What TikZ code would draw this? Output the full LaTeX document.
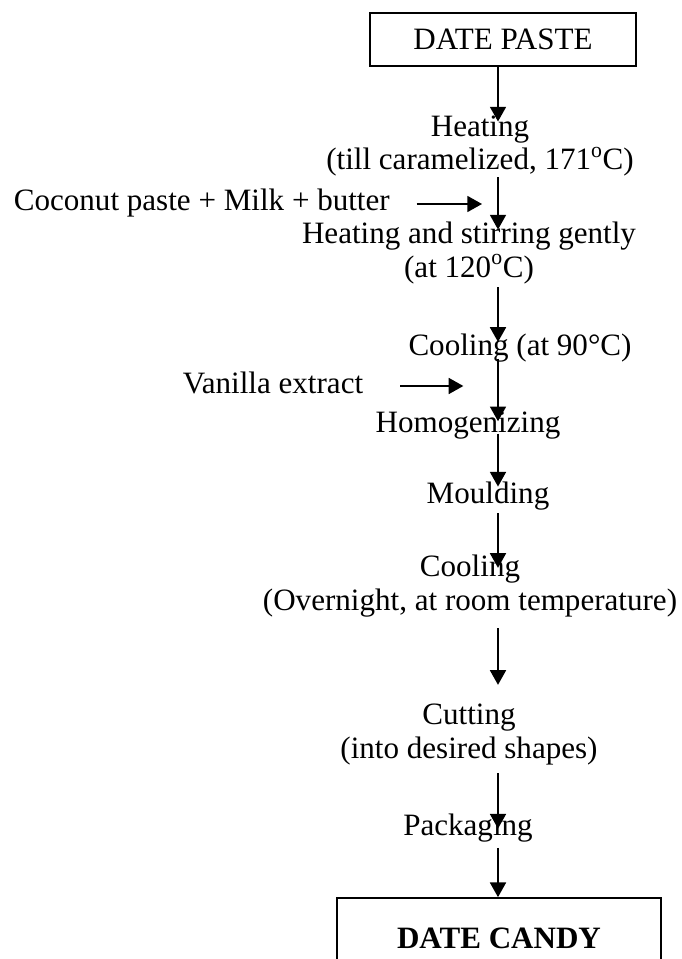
\documentclass[tikz,border=0pt]{standalone}
\usepackage{fontspec}
\setmainfont{Liberation Serif}
\usetikzlibrary{arrows.meta}
\newcommand\mainsize{\fontsize{23.3}{24.8}\selectfont}

\begin{document}
\begin{tikzpicture}[x=0.75pt,y=-0.75pt,>={Triangle[length=11pt,width=12pt]},line width=1.3pt,
                    box node/.style={draw,minimum width=200pt,minimum height=40pt,font=\mainsize},
                    step node/.style={align=center,inner sep=0pt,anchor=base,font=\mainsize},
                    side node/.style={inner sep=0pt,text height=15.5pt,text depth=5pt,anchor=base west,font=\mainsize}]
  \useasboundingbox (0,0) rectangle (681,959);
  \coordinate (spine) at (498,0);
  \node[box node] (1) at (503,39.5) {DATE PASTE};
  \node[step node] (2) at (480,170) {Heating\\(till caramelized, 171\textsuperscript{o}C)};
  \node[side node] (3) at (13,211) {Coconut paste + Milk + butter};
  \node[step node] (4) at (469,277) {Heating and stirring gently\\(at 120\textsuperscript{o}C)};
  \node[step node] (5) at (520,355) {Cooling (at 90°C)};
  \node[side node] (6) at (182,393) {Vanilla extract};
  \node[step node] (7) at (468,432) {Homogenizing};
  \node[step node] (8) at (488,503) {Moulding};
  \node[step node] (9) at (470,610) {Cooling\\(Overnight, at room temperature)};
  \node[step node] (10) at (469,758) {Cutting\\(into desired shapes)};
  \node[step node] (11) at (468,835) {Packaging};
  \node[box node,minimum width=243pt,minimum height=60pt] (12) at (499,938) {\textbf{DATE CANDY}};
  \path[->]
    (1.south -| spine) edge [shorten >=-4.5pt] (2.north -| spine)
    (2.south -| spine) edge [shorten >=-6pt] (4.north -| spine)
    (3.east) edge [shorten <=19.5pt,shorten >=12pt] (3.east -| spine)
    (4.south -| spine) edge [shorten <=2pt,shorten >=-7pt] (5.north -| spine)
    (5.south -| spine) edge [shorten <=-3pt,shorten >=-8pt] (7.north -| spine)
    (6.east) edge [shorten <=27pt,shorten >=26pt] (6.east -| spine)
    (7.south -| spine) edge [shorten <=-4.5pt,shorten >=-4.5pt] (8.north -| spine)
    (8.south -| spine) edge [shorten <=2pt,shorten >=-10pt] (9.north -| spine)
    (9.south -| spine) edge [shorten <=8pt,shorten >=14pt] (10.north -| spine)
    (10.south -| spine) edge [shorten <=6pt,shorten >=-12pt] (11.north -| spine)
    (11.south -| spine) edge [shorten <=4pt] (12.north -| spine)
    ;
\end{tikzpicture}
\end{document}
